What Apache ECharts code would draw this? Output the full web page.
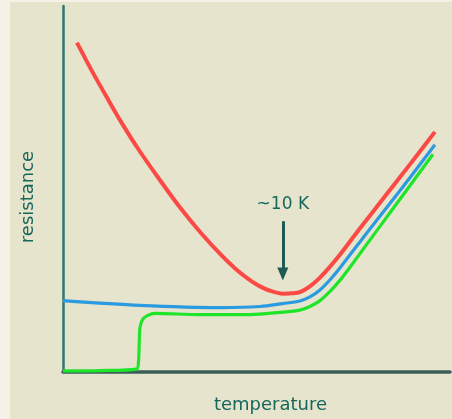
<!DOCTYPE html>
<html>
<head>
<meta charset="utf-8">
<script src="https://cdn.jsdelivr.net/npm/echarts@6/dist/echarts.min.js"></script>
<style>
  html, body { margin: 0; padding: 0; background: #f4f2e7; }
  #chart { width: 452px; height: 419px; }
</style>
</head>
<body>
<div id="chart"></div>
<script>
// Resistance vs temperature, arbitrary units (0-100 on both axes)
// Each curve is a list of [temperature, resistance] pairs.
const redCurve = [
  [3.6, 90.0], [7.5, 82.2], [11.4, 74.9], [15.2, 68.0], [19.4, 61.0],
  [24.8, 52.8], [30.2, 45.0], [35.7, 37.9], [41.1, 31.7], [44.7, 28.1],
  [48.3, 25.1], [50.9, 23.4], [53.5, 22.2], [56.8, 21.4], [59.2, 21.5],
  [61.2, 21.8], [63.8, 23.4], [66.4, 25.8], [69.0, 28.8], [71.6, 32.1],
  [76.7, 39.2], [83.2, 48.0], [89.7, 56.8], [96.1, 65.6]
];
const blueCurve = [
  [0, 19.5], [19.9, 18.2], [40.6, 17.6], [50.9, 17.9], [56.8, 18.7],
  [61.2, 19.4], [63.8, 20.5], [66.4, 22.4], [69.0, 25.2], [71.6, 28.5],
  [79.3, 39.1], [87.1, 49.6], [96.1, 62.1]
];
const greenCurve = [
  [0, 0.3], [9.6, 0.4], [19.0, 0.8], [19.5, 2.7], [19.7, 8.1],
  [19.9, 12.2], [20.6, 14.4], [21.8, 15.4], [23.8, 16.0], [35.4, 15.7],
  [48.3, 15.7], [56.1, 16.3], [61.2, 16.9], [63.8, 17.9], [66.4, 19.5],
  [69.0, 22.0], [71.6, 25.1], [74.2, 28.7], [81.9, 39.8], [88.4, 49.1],
  [95.6, 59.5]
];
// Annotation arrow marking the resistance minimum
const minimumLabel = '~10 K';
const arrowX = 56.8;
const arrowFrom = 41.2;
const arrowTo = 26.8;

const xName = 'temperature';
const yName = 'resistance';

const textColor = '#17675d';
const axisColor = '#3b5f58';
const font = '"DejaVu Sans", sans-serif';

const chart = echarts.init(document.getElementById('chart'), null, { renderer: 'canvas' });

chart.setOption({
  animation: false,
  backgroundColor: 'transparent',
  graphic: [{
    type: 'rect',
    z: -10,
    silent: true,
    shape: { x: 10, y: 2, width: 442, height: 417 },
    style: { fill: '#e6e4cc' }
  }],
  grid: { left: 63, right: 2, top: 6, bottom: 44 },
  xAxis: {
    type: 'value', min: 0, max: 100,
    name: xName, nameLocation: 'middle', nameGap: 24,
    nameTextStyle: { color: textColor, fontFamily: font, fontSize: 18, padding: [0, 0, 0, 28] },
    axisLine: { show: true, lineStyle: { color: axisColor, width: 3.5 } },
    axisTick: { show: false }, axisLabel: { show: false }, splitLine: { show: false }
  },
  yAxis: {
    type: 'value', min: 0, max: 100,
    name: yName, nameLocation: 'middle', nameGap: 26,
    nameTextStyle: { color: textColor, fontFamily: font, fontSize: 18, padding: [0, 16, 0, 0] },
    axisLine: { show: true, lineStyle: { color: '#2b7a6c', width: 2.5 } },
    axisTick: { show: false }, axisLabel: { show: false }, splitLine: { show: false }
  },
  series: [
    {
      type: 'line', data: blueCurve, showSymbol: false, smooth: 0.3,
      clip: false, z: 2,
      lineStyle: { color: '#2a9be0', width: 3.2 }
    },
    {
      type: 'line', data: greenCurve, showSymbol: false, smooth: 0.3,
      clip: false, z: 3,
      lineStyle: { color: '#1fe52a', width: 3.2 }
    },
    {
      type: 'line', data: redCurve, showSymbol: false, smooth: 0.3,
      clip: false, z: 4,
      lineStyle: { color: '#fb4a46', width: 4 },
      markLine: {
        silent: true,
        symbol: ['none', 'triangle'],
        symbolSize: [11, 13],
        lineStyle: { color: '#1f5a52', width: 3, type: 'solid' },
        label: {
          show: true, position: 'start', distance: 8,
          formatter: minimumLabel,
          color: textColor, fontFamily: font, fontSize: 17
        },
        data: [[{ coord: [arrowX, arrowFrom] }, { coord: [arrowX, arrowTo] }]]
      }
    }
  ]
});
</script>
</body>
</html>
